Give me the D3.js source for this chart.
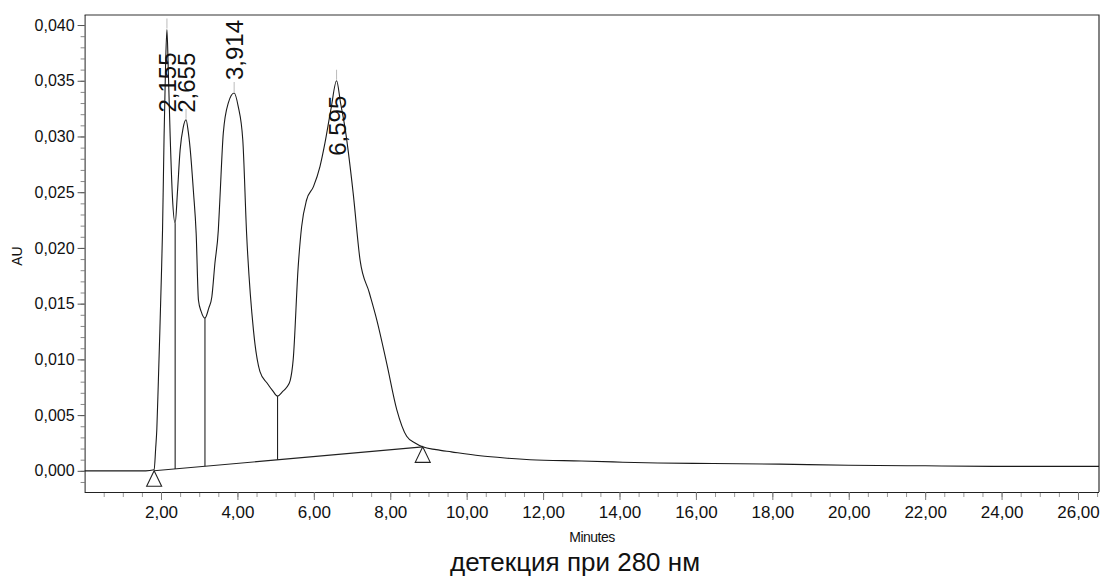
<!DOCTYPE html>
<html>
<head>
<meta charset="utf-8">
<script src="https://cdn.jsdelivr.net/npm/d3@7"></script>
<style>
  html, body { margin: 0; padding: 0; background: #fff; }
  svg { display: block; }
  text { font-family: "Liberation Sans", Arial, sans-serif; fill: #111; }
</style>
</head>
<body>
<svg id="chart" width="1101" height="577"></svg>
<script>
// Chromatogram trace: retention time (min) and absorbance (AU)
const traceTime = [
  0.00, 1.00, 1.60, 1.82, 1.86, 1.89, 1.93, 1.97, 2.01, 2.04, 2.08, 2.12, 2.155,
  2.19, 2.24, 2.30, 2.37, 2.43, 2.50, 2.58, 2.655, 2.71, 2.76, 2.85, 2.92, 2.98,
  3.05, 3.15, 3.25, 3.33, 3.41, 3.50, 3.54, 3.63, 3.76, 3.914, 4.02, 4.14, 4.24,
  4.42, 4.59, 4.77, 4.92, 5.05, 5.18, 5.29, 5.38, 5.46, 5.59, 5.68, 5.81, 5.99,
  6.16, 6.29, 6.45, 6.595, 6.70, 6.81, 7.03, 7.21, 7.45, 7.65, 7.91, 8.17, 8.43,
  8.65, 8.85, 9.20, 9.60, 10.35, 11.00, 11.66, 13.00, 13.83, 15.00, 16.45, 18.20,
  20.00, 22.00, 24.00, 26.55
];
const traceAU = [
  0.0000, 0.0000, 0.0000, 0.0001, 0.0020, 0.0037, 0.0080, 0.0126, 0.0175, 0.0216, 0.0300, 0.0365, 0.0396,
  0.0360, 0.0300, 0.0245, 0.0222, 0.0250, 0.0288, 0.0308, 0.0315, 0.0305, 0.0290, 0.0250, 0.0213, 0.0153,
  0.0143, 0.0137, 0.0146, 0.0156, 0.0186, 0.0216, 0.0243, 0.0303, 0.0330, 0.0339, 0.0327, 0.0297, 0.0213,
  0.0126, 0.0089, 0.0079, 0.0072, 0.0067, 0.0071, 0.0075, 0.0081, 0.0100, 0.0183, 0.0219, 0.0243, 0.0255,
  0.0273, 0.0294, 0.0325, 0.0350, 0.0330, 0.0309, 0.0249, 0.0189, 0.0160, 0.0135, 0.0096, 0.0055, 0.0031,
  0.0025, 0.00215, 0.0019, 0.0017, 0.00135, 0.00115, 0.00100, 0.00088, 0.0008, 0.0007, 0.00066, 0.0006,
  0.0005, 0.00045, 0.0004, 0.0004
];

// Integrated peaks: apex retention times and their labels
const peakTimes = [2.155, 2.655, 3.914, 6.595];
const peakLabels = ["2,155", "2,655", "3,914", "6,595"];

// Integration baseline (start and end of the peak group) and drop-line times
const baselineTime = [1.82, 8.85];
const baselineAU = [0.0000, 0.00215];
const dropTimes = [2.37, 3.15, 5.05];

// Axis ticks
const yTickValues = [0.000, 0.005, 0.010, 0.015, 0.020, 0.025, 0.030, 0.035, 0.040];
const xTickValues = [2, 4, 6, 8, 10, 12, 14, 16, 18, 20, 22, 24, 26];

const svg = d3.select("#chart");
const plotLeft = 84.6, plotRight = 1099, plotTop = 15, plotBottom = 492;

const x = d3.scaleLinear().domain([0, 26.55]).range([plotLeft, plotRight]);
const y = d3.scaleLinear().domain([-0.0019, 0.0409]).range([plotBottom, plotTop]);

const fmtY = v => d3.format(".3f")(v).replace(".", ",");
const fmtX = v => d3.format(".2f")(v).replace(".", ",");

const points = traceTime.map((t, i) => [t, traceAU[i]]);
const auAt = t => {
  const i = d3.bisectLeft(traceTime, t);
  if (i <= 0) return traceAU[0];
  if (i >= traceTime.length) return traceAU[traceAU.length - 1];
  const t0 = traceTime[i - 1], t1 = traceTime[i];
  return traceAU[i - 1] + (traceAU[i] - traceAU[i - 1]) * (t - t0) / (t1 - t0);
};
const baseAt = t => baselineAU[0] + (baselineAU[1] - baselineAU[0]) * (t - baselineTime[0]) / (baselineTime[1] - baselineTime[0]);

// Frame (top and right)
svg.append("path")
  .attr("d", `M${plotLeft},${plotTop}H${plotRight}V${plotBottom}`)
  .attr("fill", "none").attr("stroke", "#333").attr("stroke-width", 1.2);

// Y axis with minor ticks every 0.001
const yMinor = d3.range(-1, 41).map(k => k / 1000);
svg.append("g")
  .attr("transform", `translate(${plotLeft},0)`)
  .call(d3.axisLeft(y).tickValues(yMinor).tickSize(4).tickFormat(""))
  .call(g => g.select(".domain").remove())
  .call(g => g.selectAll("line").attr("stroke", "#888"));
const yAxis = svg.append("g")
  .attr("transform", `translate(${plotLeft},0)`)
  .call(d3.axisLeft(y).tickValues(yTickValues).tickSize(7).tickPadding(3).tickFormat(fmtY));
yAxis.select(".domain").attr("d", `M0.5,${plotTop}V${plotBottom}`).attr("stroke", "#222");
yAxis.selectAll("line").attr("stroke", "#555");
yAxis.selectAll("text").attr("font-size", 16).attr("font-family", "Liberation Sans, Arial, sans-serif").attr("fill", "#111");

// X axis with minor ticks every 0.5 min
const xMinor = d3.range(1, 54).map(k => k / 2);
svg.append("g")
  .attr("transform", `translate(0,${plotBottom})`)
  .call(d3.axisBottom(x).tickValues(xMinor).tickSize(5).tickFormat(""))
  .call(g => g.select(".domain").remove())
  .call(g => g.selectAll("line").attr("stroke", "#999"));
const xAxis = svg.append("g")
  .attr("transform", `translate(0,${plotBottom})`)
  .call(d3.axisBottom(x).tickValues(xTickValues).tickSize(8).tickPadding(6).tickFormat(fmtX));
xAxis.select(".domain").attr("d", `M${plotLeft},0.5H${plotRight}`).attr("stroke", "#222").attr("stroke-width", 1.2);
xAxis.selectAll("line").attr("stroke", "#777");
xAxis.selectAll("text").attr("font-size", 17).attr("font-family", "Liberation Sans, Arial, sans-serif").attr("fill", "#111");

// Axis titles and caption
svg.append("text")
  .attr("transform", `translate(22,256) rotate(-90)`)
  .attr("text-anchor", "middle").attr("font-size", 14).text("AU");
svg.append("text")
  .attr("x", 592).attr("y", 542)
  .attr("text-anchor", "middle").attr("font-size", 14)
  .attr("letter-spacing", -0.5).text("Minutes");
svg.append("text")
  .attr("x", 575).attr("y", 571)
  .attr("text-anchor", "middle").attr("font-size", 26).text("детекция при 280 нм");

// Integration baseline
svg.append("line")
  .attr("x1", x(baselineTime[0])).attr("y1", y(baselineAU[0]))
  .attr("x2", x(baselineTime[1])).attr("y2", y(baselineAU[1]))
  .attr("stroke", "#222").attr("stroke-width", 1.1);

// Drop lines between unresolved peaks
svg.selectAll("line.drop").data(dropTimes).join("line")
  .attr("class", "drop")
  .attr("x1", d => x(d)).attr("x2", d => x(d))
  .attr("y1", d => y(baseAt(d))).attr("y2", d => y(auAt(d)))
  .attr("stroke", "#222").attr("stroke-width", 1.1);

// Trace
const line = d3.line().x(d => x(d[0])).y(d => y(d[1])).curve(d3.curveMonotoneX);
svg.append("path")
  .datum(points)
  .attr("d", line)
  .attr("fill", "none").attr("stroke", "#1a1a1a").attr("stroke-width", 1.1);

// Peak start/end markers (open triangles)
svg.selectAll("path.mark").data(baselineTime).join("path")
  .attr("class", "mark")
  .attr("transform", (d, i) => `translate(${x(d)},${y(baselineAU[i])})`)
  .attr("d", "M0,0L-7.5,15.5H7.5Z")
  .attr("fill", "none").attr("stroke", "#222").attr("stroke-width", 1.1);

// Apex tick marks and rotated retention-time labels
const labelShift = [83, -7, -13, 75];
svg.selectAll("line.apex").data(peakTimes).join("line")
  .attr("class", "apex")
  .attr("x1", d => x(d)).attr("x2", d => x(d))
  .attr("y1", d => y(auAt(d)) - 1).attr("y2", d => y(auAt(d)) - 11)
  .attr("stroke", "#bbb").attr("stroke-width", 1);
svg.selectAll("text.peak").data(peakTimes).join("text")
  .attr("class", "peak")
  .attr("transform", (d, i) => `translate(${x(d) + 9},${y(auAt(d)) + labelShift[i]}) rotate(-90)`)
  .attr("font-size", 24)
  .text((d, i) => peakLabels[i]);
</script>
</body>
</html>
